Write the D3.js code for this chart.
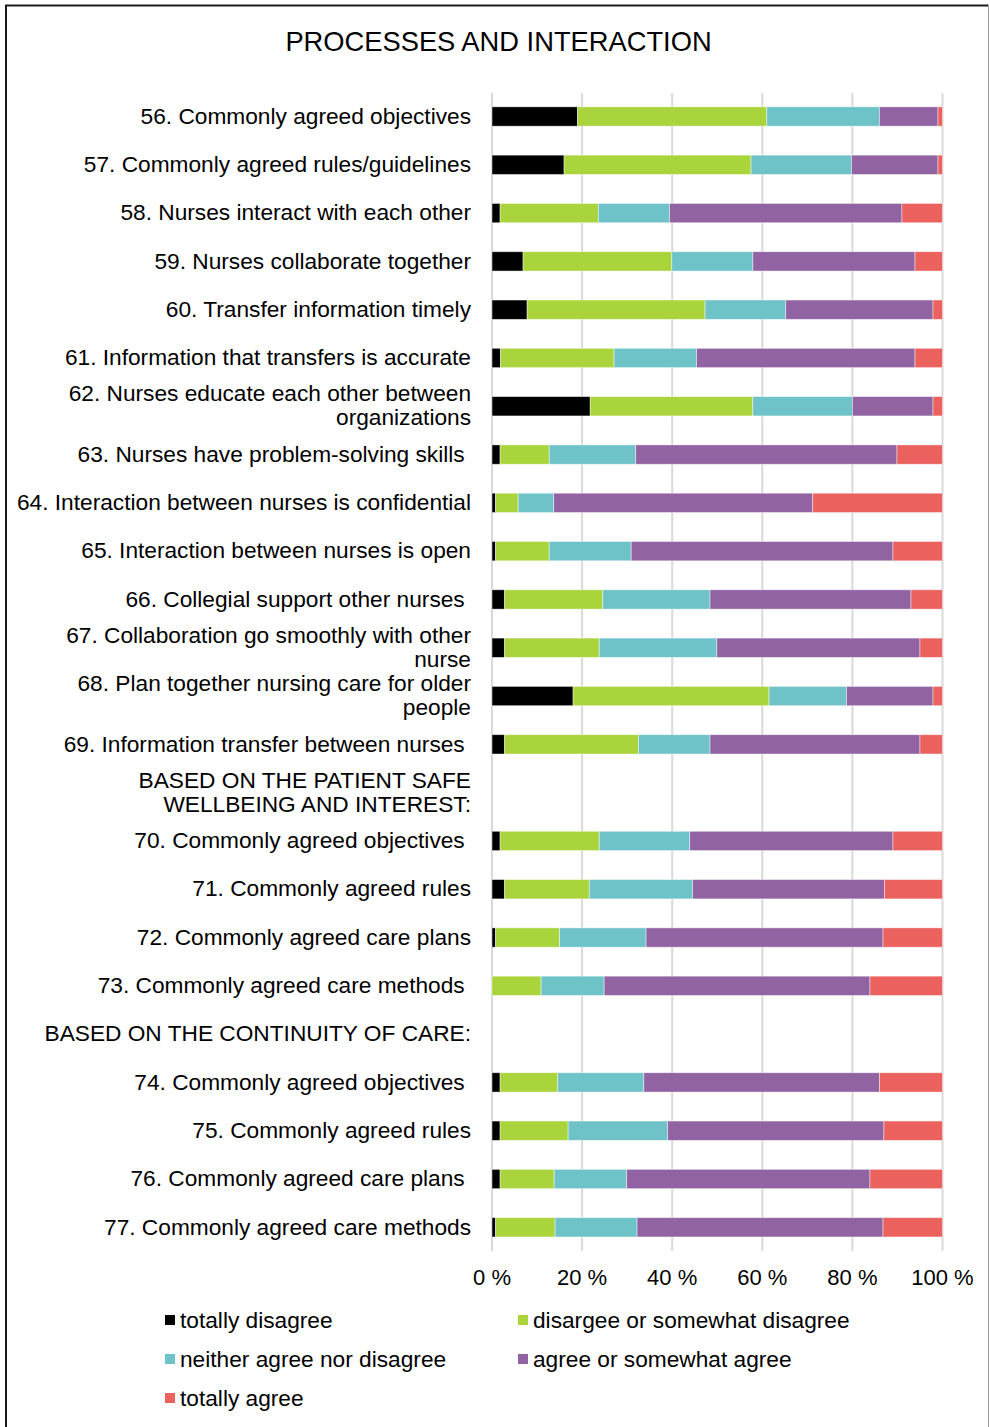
<!DOCTYPE html>
<html>
<head>
<meta charset="utf-8">
<script src="https://cdn.jsdelivr.net/npm/d3@7"></script>
<style>
  html, body { margin: 0; padding: 0; background: #fff; }
  svg { display: block; font-family: "Liberation Sans", Arial, sans-serif; }
  text { white-space: pre; }
</style>
</head>
<body>
<svg id="chart" width="990" height="1427"></svg>
<script>
// Row labels, top to bottom ("\n" marks a line break; blank values mark section headers)
const categories = [
  "56. Commonly agreed objectives",
  "57. Commonly agreed rules/guidelines",
  "58. Nurses interact with each other",
  "59. Nurses collaborate together",
  "60. Transfer information timely",
  "61. Information that transfers is accurate",
  "62. Nurses educate each other between\norganizations",
  "63. Nurses have problem-solving skills ",
  "64. Interaction between nurses is confidential",
  "65. Interaction between nurses is open",
  "66. Collegial support other nurses ",
  "67. Collaboration go smoothly with other\nnurse",
  "68. Plan together nursing care for older\npeople",
  "69. Information transfer between nurses ",
  "BASED ON THE PATIENT SAFE\nWELLBEING AND INTEREST:",
  "70. Commonly agreed objectives ",
  "71. Commonly agreed rules",
  "72. Commonly agreed care plans",
  "73. Commonly agreed care methods ",
  "BASED ON THE CONTINUITY OF CARE:",
  "74. Commonly agreed objectives ",
  "75. Commonly agreed rules",
  "76. Commonly agreed care plans ",
  "77. Commonly agreed care methods"
];

// Percent of answers per response (null = header row without a bar)
const totallyDisagree   = [19, 16, 1.8, 6.9, 7.8, 1.9, 21.8, 1.8, 0.8, 0.8, 2.8, 2.8, 18, 2.8, null, 1.8, 2.8, 0.8, 0, null, 1.8, 1.8, 1.8, 0.8];
const disagreeSomewhat  = [42, 41.5, 21.8, 33, 39.5, 25.2, 36.1, 10.9, 5, 11.9, 21.8, 21, 43.5, 29.7, null, 22, 18.8, 14.2, 10.9, null, 12.8, 15.1, 12, 13.2];
const neitherNor        = [25, 22.3, 15.8, 18, 17.9, 18.3, 22.1, 19.2, 7.9, 18.2, 23.8, 26.1, 17.2, 15.9, null, 20.1, 22.9, 19.2, 14, null, 19.1, 22.1, 16.1, 18.2];
const agreeSomewhat     = [13, 19.2, 51.6, 36, 32.7, 48.5, 17.9, 58, 57.5, 58.1, 44.6, 45.1, 19.2, 46.6, null, 45.1, 42.6, 52.6, 59, null, 52.3, 48, 54, 54.6];
const totallyAgree      = [1, 1, 9, 6.1, 2.1, 6.1, 2.1, 10.1, 28.8, 11, 7, 5, 2.1, 5, null, 11, 12.9, 13.2, 16.1, null, 14, 13, 16.1, 13.2];

const seriesNames = [
  "totally disagree",
  "disargee or somewhat disagree",
  "neither agree nor disagree",
  "agree or somewhat agree",
  "totally agree"
];
const seriesColors = ["#000000", "#a9d43b", "#6ec3c8", "#9163a2", "#ea615d"];
const tickValues = [0, 20, 40, 60, 80, 100];
const chartTitle = "PROCESSES AND INTERACTION";

const seriesValues = [totallyDisagree, disagreeSomewhat, neitherNor, agreeSomewhat, totallyAgree];

// Table for d3.stack: one record per row
const rows = categories.map((label, i) => {
  const r = { id: i, label: label, header: totallyDisagree[i] === null };
  seriesNames.forEach((s, k) => { r[s] = seriesValues[k][i] || 0; });
  return r;
});

const svg = d3.select("#chart");

// Outer frame
svg.append("path")
  .attr("d", "M6,1427 V5.5 H988.5")
  .attr("fill", "none")
  .attr("stroke", "#1a1a1a")
  .attr("stroke-width", 2);
svg.append("line")
  .attr("x1", 988.5).attr("x2", 988.5).attr("y1", 5).attr("y2", 1427)
  .attr("stroke", "#9a9a9a").attr("stroke-width", 1);

// Title
svg.append("text")
  .attr("x", 498.5).attr("y", 41.5)
  .attr("text-anchor", "middle")
  .attr("dominant-baseline", "central")
  .attr("font-size", 27.3)
  .attr("fill", "#000")
  .text(chartTitle);

const x = d3.scaleLinear().domain([0, 100]).range([492, 942.5]);
const y = d3.scaleBand()
  .domain(rows.map(d => d.id))
  .range([92.35, 1251.45])
  .paddingInner(0.6)
  .paddingOuter(0.3);

// Vertical gridlines
svg.append("g")
  .selectAll("line")
  .data(tickValues)
  .join("line")
  .attr("x1", d => x(d)).attr("x2", d => x(d))
  .attr("y1", 93).attr("y2", 1251)
  .attr("stroke", "#d9d9d9")
  .attr("stroke-width", 2);

// Stacked bars
const stacked = d3.stack().keys(seriesNames)(rows);
svg.append("g")
  .selectAll("g")
  .data(stacked)
  .join("g")
  .attr("fill", (d, i) => seriesColors[i])
  .selectAll("rect")
  .data(d => d.filter(p => !p.data.header && p[1] - p[0] > 0))
  .join("rect")
  .attr("x", p => x(p[0]))
  .attr("width", p => x(p[1]) - x(p[0]))
  .attr("y", p => y(p.data.id))
  .attr("height", y.bandwidth())
  .attr("stroke", "rgba(255,255,255,0.55)")
  .attr("stroke-width", 0.8);

// Category labels (right aligned, multi-line where needed)
const labelSize = 22.7;
const lineGap = 24;
const labels = svg.append("g")
  .selectAll("text")
  .data(rows)
  .join("text")
  .attr("text-anchor", "end")
  .attr("font-size", labelSize)
  .attr("fill", "#000")
  .attr("transform", d => `translate(471,${y(d.id) + y.bandwidth() / 2 - 0.8})`);
labels.each(function (d) {
  const lines = d.label.split("\n");
  const offset = -(lines.length - 1) * lineGap / 2;
  d3.select(this).selectAll("tspan")
    .data(lines)
    .join("tspan")
    .attr("x", 0)
    .attr("y", (l, i) => offset + i * lineGap)
    .attr("dominant-baseline", "central")
    .text(l => l);
});

// X axis tick labels
svg.append("g")
  .selectAll("text")
  .data(tickValues)
  .join("text")
  .attr("x", d => x(d))
  .attr("y", 1277.5)
  .attr("text-anchor", "middle")
  .attr("dominant-baseline", "central")
  .attr("font-size", 22)
  .attr("fill", "#000")
  .text(d => d + " %");

// Legend
const legendPos = [
  [165, 1320], [518, 1320],
  [165, 1359], [518, 1359],
  [165, 1398]
];
const legend = svg.append("g")
  .selectAll("g")
  .data(seriesNames)
  .join("g")
  .attr("transform", (d, i) => `translate(${legendPos[i][0]},${legendPos[i][1]})`);
legend.append("rect")
  .attr("x", 0).attr("y", -5)
  .attr("width", 10).attr("height", 10)
  .attr("fill", (d, i) => seriesColors[i]);
legend.append("text")
  .attr("x", 15).attr("y", -0.5)
  .attr("dominant-baseline", "central")
  .attr("font-size", labelSize)
  .attr("fill", "#000")
  .text(d => d);
</script>
</body>
</html>
